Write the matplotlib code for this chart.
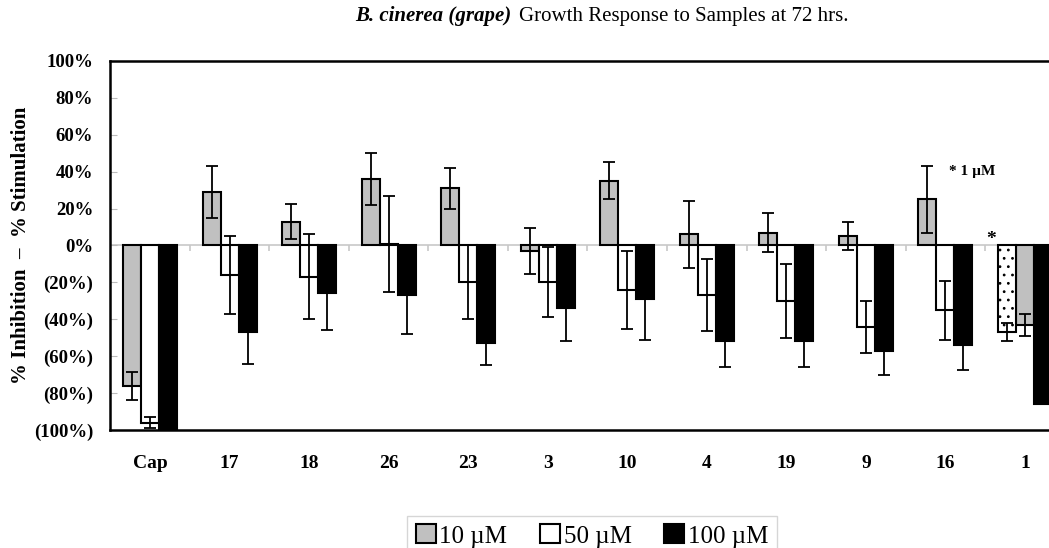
import numpy as np
import matplotlib
matplotlib.use("Agg")
import matplotlib.pyplot as plt
from matplotlib.patches import Patch

# ── data ──
categories = ["Cap", "17", "18", "26", "23", "3", "10", "4", "19", "9", "16", "1"]

v10 = [-76, 29, 13, 36, 31, -3, 35, 6, 7, 5, 25, -43]
e10 = [7.5, 14, 9.5, 14, 11, 12.5, 10, 18, 10.5, 7.5, 18, 6]

v50 = [-96, -16, -17, 1, -20, -20, -24, -27, -30, -44, -35]
e50 = [3, 21, 23, 26, 20, 19, 21, 19.5, 20, 14, 16]

v100 = [-100, -47, -26, -27, -53, -34, -29, -52, -52, -57, -54, -86]
e100 = [0, 17, 20, 21, 12, 18, 22, 14, 14, 13, 13.5, 0]

v1 = [-47]   # 1 uM, sample "1" only
e1 = [5]

yticks = [100, 80, 60, 40, 20, 0, -20, -40, -60, -80, -100]
ytick_labels = ["100%", "80%", "60%", "40%", "20%", "0%",
                "(20%)", "(40%)", "(60%)", "(80%)", "(100%)"]

SERIF = ["Liberation Serif", "DejaVu Serif"]
plt.rcParams["font.family"] = SERIF

W, H = 1049, 548
fig = plt.figure(figsize=(W / 100, H / 100), dpi=100)
ax = fig.add_axes([110 / W, 1 - 430 / H, (1056 - 110) / W, (430 - 61) / H])

x = np.arange(len(categories), dtype=float)
w = 0.226
ekw = dict(ecolor="black", elinewidth=1.3, capsize=4.5, capthick=1.3)
bkw = dict(edgecolor="black", linewidth=1.5, zorder=3)

# 10 uM: first slot, except sample "1" where it sits in the middle slot
x10 = x - w
x10[-1] = x[-1]
ax.bar(x10, v10, w, color="#c0c0c0", yerr=e10, error_kw=ekw, **bkw)

n50 = len(v50)
ax.bar(x[:n50], v50, w, color="white", yerr=e50, error_kw=ekw, **bkw)

ax.bar(x + w, v100, w, color="black", yerr=e100, error_kw=ekw, **bkw)

plt.rcParams["hatch.color"] = "#888888"
plt.rcParams["hatch.linewidth"] = 0.8
ax.bar([x[-1] - w], v1, w, color="white", hatch="..", yerr=e1, error_kw=ekw, **bkw)

# zero line + category separators
ax.axhline(0, color="#c8c8c8", linewidth=1.2, zorder=1)
ax.vlines(x[:-1] + 0.5, -3, 0, color="#c8c8c8", linewidth=1.2, zorder=1)

ax.set_ylim(-100, 100)
ax.set_xlim(-0.503, 11.39)
ax.set_yticks(yticks)
ax.set_yticklabels(ytick_labels, fontsize=13.5, fontweight="bold")
ax.tick_params(axis="y", direction="in", length=5, color="#bbbbbb", pad=12)
ax.set_xticks(x)
ax.set_xticklabels(categories, fontsize=14, fontweight="bold")
ax.tick_params(axis="x", length=0, pad=18)

for sp in ["left", "top", "bottom"]:
    ax.spines[sp].set_linewidth(1.8)
ax.spines["right"].set_visible(False)

fig.text(21 / W, 1 - 245 / H, "% Inhibition  \u2013  % Stimulation", rotation=90,
         ha="center", va="center", fontsize=15, fontweight="bold")

# title: bold-italic species, regular rest
fig.text(511 / W, 1 - 16 / H, "B. cinerea (grape)", ha="right", va="center",
         fontsize=15, fontweight="bold", style="italic")
fig.text(519 / W, 1 - 16 / H, "Growth Response to Samples at 72 hrs.",
         ha="left", va="center", fontsize=15)

ax.text(x[-1] - 0.96, 40, "* 1 \u00b5M", fontsize=11, fontweight="bold",
        ha="left", va="center")
ax.text(x[-1] - 0.43, 3, "*", fontsize=14, fontweight="bold", ha="center", va="center")

handles = [Patch(facecolor="#c0c0c0", edgecolor="black", linewidth=1.5),
           Patch(facecolor="white", edgecolor="black", linewidth=1.5),
           Patch(facecolor="black", edgecolor="black", linewidth=1.5)]
leg = fig.legend(handles, ["10 \u00b5M", "50 \u00b5M", "100 \u00b5M"],
                 loc="upper center", bbox_to_anchor=(592 / W, 1 - 503 / H),
                 ncol=3, fontsize=18, frameon=True, fancybox=False,
                 handlelength=0.8, handleheight=0.8, handletextpad=0.15,
                 columnspacing=1.3, borderpad=0.35)
leg.get_frame().set_edgecolor("#cccccc")
leg.get_frame().set_linewidth(1.0)

fig.savefig("out.png", dpi=100, facecolor="white")
